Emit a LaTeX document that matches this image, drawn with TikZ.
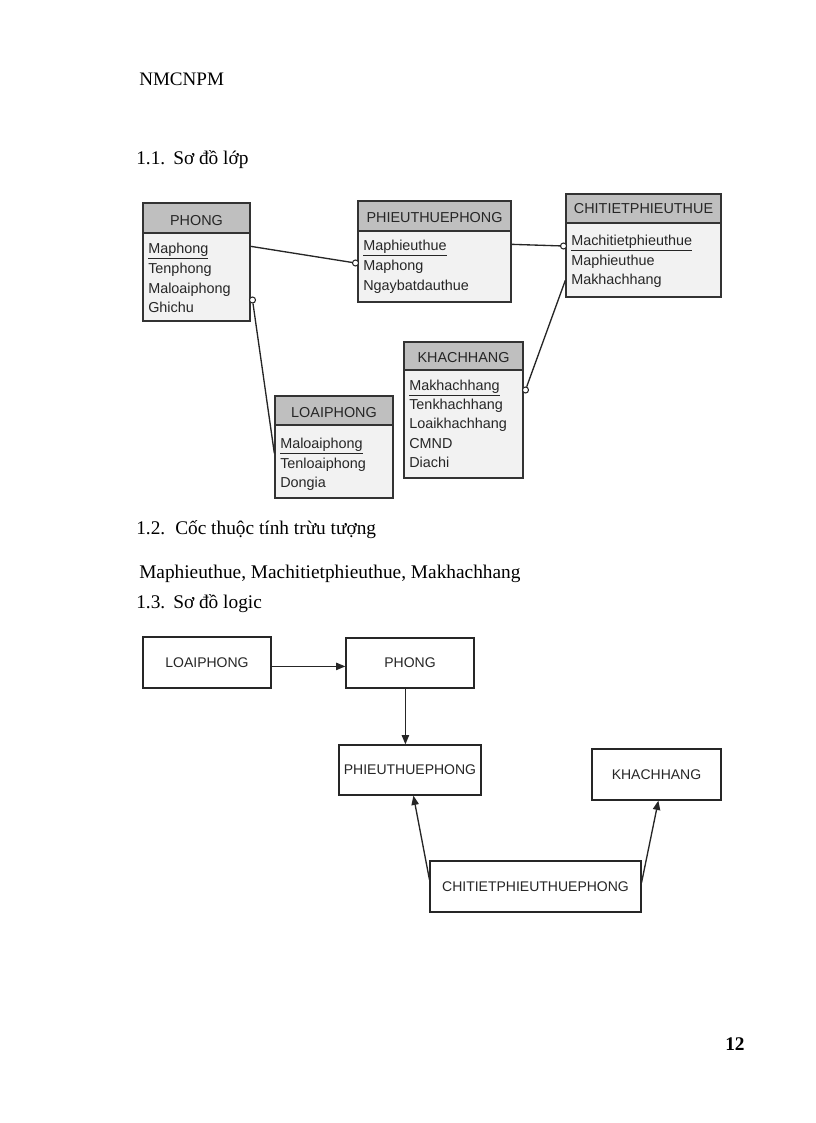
\documentclass[tikz,border=0pt]{standalone}
\usepackage{fontspec}
\setmainfont{Liberation Serif}
\newfontfamily\arialf{Liberation Sans}
\usetikzlibrary{arrows.meta,fit,calc}
\begin{document}
\begin{tikzpicture}[x=0.75pt,y=-0.75pt,
 cbox/.style={draw=black!80, line width=1pt, fill=black!5, inner sep=0pt},
 chdr/.style={draw=black!80, line width=1pt, fill=black!25, inner sep=0pt},
 ctitle/.style={font=\arialf\fontsize{10.8}{13}\selectfont, text=black!85, anchor=base, inner sep=0pt},
 cattr/.style={font=\arialf\fontsize{10.8}{13}\selectfont, text=black!85, anchor=base west, inner sep=0pt},
 lbox/.style={draw=black!85, line width=0.9pt, fill=white, inner sep=0pt},
 ltext/.style={font=\arialf\fontsize{10.5}{13}\selectfont, text=black!85, inner sep=0pt},
 ptext/.style={font=\fontsize{14.5}{17}\selectfont, anchor=base west, inner sep=0pt},
 link/.style={line width=1pt, draw=black!85},
 odot/.style={circle, draw=black!85, line width=0.8pt, fill=white, inner sep=0pt, minimum size=4.5pt},
 arr/.style={line width=1pt, draw=black!85, -{Triangle[length=7pt,width=5.5pt]}},
]
\useasboundingbox (0,0) rectangle (816,1123);

% page texts
\node[ptext, font=\fontsize{14.3}{17}\selectfont] (hdr) at (139,86) {NMCNPM};
\node[ptext] (n11) at (136,165) {1.1.};
\node[ptext] (t11) at (173,165) {Sơ đồ lớp};
\node[ptext] (n12) at (136,534) {1.2.};
\node[ptext] (t12) at (175,534) {Cốc thuộc tính trừu tượng};
\node[ptext] (keys) at (139,578) {Maphieuthue, Machitietphieuthue, Makhachhang};
\node[ptext] (n13) at (136,608) {1.3.};
\node[ptext] (t13) at (173,608) {Sơ đồ logic};
\node[ptext, font=\bfseries\fontsize{14.5}{17}\selectfont] (pg) at (725,1050) {12};

% ---- class diagram ----
% PHONG
\node[cbox, fit={(143,203)(250,321)}] (phong) {};
\node[chdr, fit={(143,203)(250,233)}] (phongH) {};
\node[ctitle] (phongT) at (196.5,225) {PHONG};
\node[cattr] (pa1) at (148,253) {\underline{Maphong}};
\node[cattr] (pa2) at (148,273) {Tenphong};
\node[cattr] (pa3) at (148,293) {Maloaiphong};
\node[cattr] (pa4) at (148,312) {Ghichu};

% PHIEUTHUEPHONG
\node[cbox, fit={(358,201)(511,302)}] (phieu) {};
\node[chdr, fit={(358,201)(511,231)}] (phieuH) {};
\node[ctitle] (phieuT) at (434.5,223) {PHIEUTHUEPHONG};
\node[cattr] (ra1) at (363,250) {\underline{Maphieuthue}};
\node[cattr] (ra2) at (363,270) {Maphong};
\node[cattr] (ra3) at (363,290) {Ngaybatdauthue};

% CHITIETPHIEUTHUE
\node[cbox, fit={(566,194)(721,297)}] (ct) {};
\node[chdr, fit={(566,194)(721,223)}] (ctH) {};
\node[ctitle] (ctT) at (643.5,214) {CHITIETPHIEUTHUE};
\node[cattr] (ca1) at (571,245) {\underline{Machitietphieuthue}};
\node[cattr] (ca2) at (571,265) {Maphieuthue};
\node[cattr] (ca3) at (571,284) {Makhachhang};

% KHACHHANG
\node[cbox, fit={(404,342)(523,478)}] (kh) {};
\node[chdr, fit={(404,342)(523,370)}] (khH) {};
\node[ctitle] (khT) at (463.5,362) {KHACHHANG};
\node[cattr] (ka1) at (409,390) {\underline{Makhachhang}};
\node[cattr] (ka2) at (409,409) {Tenkhachhang};
\node[cattr] (ka3) at (409,428) {Loaikhachhang};
\node[cattr] (ka4) at (409,448) {CMND};
\node[cattr] (ka5) at (409,467) {Diachi};

% LOAIPHONG
\node[cbox, fit={(275,396)(393,498)}] (lp) {};
\node[chdr, fit={(275,396)(393,425)}] (lpH) {};
\node[ctitle] (lpT) at (334,417) {LOAIPHONG};
\node[cattr] (la1) at (280,448) {\underline{Maloaiphong}};
\node[cattr] (la2) at (280,468) {Tenloaiphong};
\node[cattr] (la3) at (280,487) {Dongia};

% connectors
\node[odot] (o1) at (355.5,263) {};
\node[odot] (o2) at (563.5,246) {};
\node[odot] (o3) at (252.5,300) {};
\node[odot] (o4) at (525.5,390) {};
\draw[link] ($(phong.north east)+(0,44)$) -- (o1);
\draw[link] ($(phieu.north east)+(0,44)$) -- (o2);
\draw[link] (o3) -- ($(lp.north west)+(0,58)$);
\draw[link] (o4) -- ($(ct.north west)+(0,87)$);

% ---- logic diagram ----
\node[lbox, fit={(143,637)(271,688)}] (L1) {};
\node[ltext] at (L1.center) {LOAIPHONG};
\node[lbox, fit={(346,638)(474,688)}] (L2) {};
\node[ltext] at (L2.center) {PHONG};
\node[lbox, fit={(339,745)(481,795)}] (L3) {};
\node[ltext] at (L3.center) {PHIEUTHUEPHONG};
\node[lbox, fit={(592,749)(721,800)}] (L4) {};
\node[ltext] at (L4.center) {KHACHHANG};
\node[lbox, fit={(430,861)(641,912)}] (L5) {};
\node[ltext] at (L5.center) {CHITIETPHIEUTHUEPHONG};

\draw[arr] ($(L1.north east)+(0,30)$) -- ($(L2.north west)+(0,29)$);
\draw[arr] ($(L2.south west)+(60,0)$) -- ($(L3.north west)+(67,0)$);
\draw[arr] ($(L5.north west)+(0,19)$) -- ($(L3.south west)+(75,0)$);
\draw[arr] ($(L5.north east)+(0,22)$) -- ($(L4.south west)+(67,0)$);
\end{tikzpicture}
\end{document}
